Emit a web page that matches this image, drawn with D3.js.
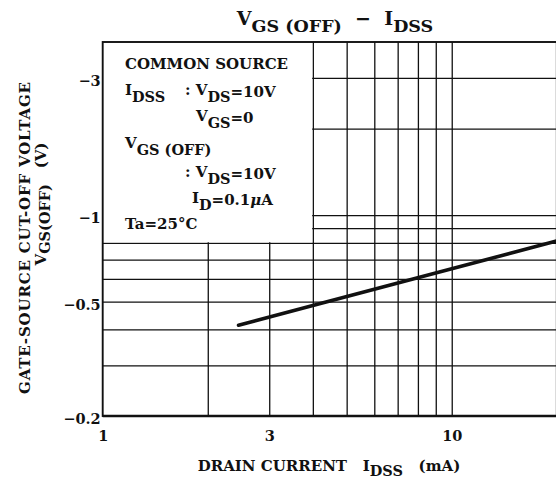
<!DOCTYPE html>
<html><head><meta charset="utf-8">
<script src="https://cdn.jsdelivr.net/npm/d3@7"></script>
<style>body{margin:0;background:#fff}svg{display:block}text{white-space:pre}</style>
</head><body>
<script>
// ---- data ----
const xTickValues = [1, 3, 10];
const xTickLabels = ["1", "3", "10"];
const yTickValues = [3, 1, 0.5, 0.2];
const yTickLabels = ["\u22123", "\u22121", "\u22120.5", "\u22120.2"];
const xGridValues = [2, 3, 4, 5, 6, 7, 8, 9, 10];
const yGridValues = [0.3, 0.4, 0.5, 0.6, 0.7, 0.8, 0.9, 1, 2, 3];
const idss = [2.45, 4, 10, 20];            // mA
const vgsOff = [0.414, 0.485, 0.65, 0.813]; // |V|

// ---- layout ----
const W = 556, H = 481;
const FONT = "'DejaVu Serif', serif";
const INK = "#111";
const svg = d3.select("body").append("svg").attr("width", W).attr("height", H)
  .style("font-family", FONT).style("font-weight", "bold");

const x = d3.scaleLog().domain([1, 20]).range([102.7, 556.8]);
const y = d3.scaleLog().domain([0.2, 4]).range([416, 42]);
const [x0, x1] = x.range(), [y0, y1] = y.range();

svg.append("defs").append("clipPath").attr("id", "plot")
  .append("rect").attr("x", x0).attr("y", y1).attr("width", x1 - x0).attr("height", y0 - y1);

const plot = svg.append("g").attr("clip-path", "url(#plot)");

// grid via axes
const gx = plot.append("g").attr("transform", `translate(0,${y0})`)
  .call(d3.axisBottom(x).tickValues(xGridValues).tickSize(-(y0 - y1)).tickFormat(""));
const gy = plot.append("g").attr("transform", `translate(${x0},0)`)
  .call(d3.axisLeft(y).tickValues(yGridValues).tickSize(-(x1 - x0)).tickFormat(""));
[gx, gy].forEach(g => {
  g.select(".domain").remove();
  g.selectAll("line").attr("stroke", INK).attr("stroke-width", 1.3);
});

// legend box (white, hides grid)
plot.append("rect").attr("x", x0).attr("y", y1)
  .attr("width", x(4) - x0 - 0.7).attr("height", y(0.8) - y1 - 0.7)
  .attr("fill", "#fff");

// curve
plot.append("path")
  .datum(idss.map((d, i) => [d, vgsOff[i]]))
  .attr("fill", "none").attr("stroke", INK).attr("stroke-width", 3.6)
  .attr("stroke-linecap", "round")
  .attr("d", d3.line().x(d => x(d[0])).y(d => y(d[1])));

// frame
svg.append("rect").attr("x", x0).attr("y", y1).attr("width", x1 - x0).attr("height", y0 - y1)
  .attr("fill", "none").attr("stroke", INK).attr("stroke-width", 1.9);
svg.append("line").attr("x1", x0).attr("x2", x1).attr("y1", y0).attr("y2", y0)
  .attr("stroke", INK).attr("stroke-width", 2.6);

// tick labels via axes
const ax = svg.append("g").attr("transform", `translate(0,${y0})`)
  .call(d3.axisBottom(x).tickValues(xTickValues).tickSize(0).tickPadding(15)
    .tickFormat((d, i) => xTickLabels[i]));
const ay = svg.append("g").attr("transform", `translate(${x0},0)`)
  .call(d3.axisLeft(y).tickValues(yTickValues).tickSize(0).tickPadding(2)
    .tickFormat((d, i) => yTickLabels[i]));
[ax, ay].forEach(g => {
  g.select(".domain").remove();
  g.selectAll("text").attr("fill", INK).style("font-family", FONT)
    .style("font-weight", "bold").style("font-size", "14.5px");
});
ay.selectAll("text").attr("dy", "0.75em").attr("y", -3);

// rich text helper: parts [{t, o}] o = baseline offset
function rich(parent, px, py, parts, size, anchor, transform) {
  const t = parent.append("text").attr("x", px).attr("y", py)
    .attr("fill", INK).style("font-size", size + "px")
    .attr("text-anchor", anchor || "start");
  if (transform) t.attr("transform", transform);
  let prev = 0;
  parts.forEach(p => {
    const o = p.o || 0;
    const ts = t.append("tspan").attr("dy", o - prev).text(p.t);
    if (p.s) ts.style("font-size", p.s + "px");
    if (p.i) ts.style("font-style", "italic");
    prev = o;
  });
  return t;
}

// title
rich(svg, 335, 25, [
  {t: "V"}, {t: "GS (OFF)", o: 7, s: 17.5}, {t: "  \u2212  ", o: 0}, {t: "I", o: 0}, {t: "DSS", o: 7, s: 17.5}
], 19, "middle");

// legend texts
const L = svg.append("g");
const FS = 15, SS = 14.5;
rich(L, 125, 69, [{t: "COMMON SOURCE"}], FS);
rich(L, 125, 95, [{t: "I"}, {t: "DSS", o: 7, s: SS}], FS);
rich(L, 185, 95, [{t: ": V"}, {t: "DS", o: 7, s: SS}, {t: "=10V", o: 2}], FS);
rich(L, 196, 121, [{t: "V"}, {t: "GS", o: 7, s: SS}, {t: "=0", o: 2}], FS);
rich(L, 125, 148, [{t: "V"}, {t: "GS (OFF)", o: 7, s: SS}], FS);
rich(L, 185, 177, [{t: ": V"}, {t: "DS", o: 7, s: SS}, {t: "=10V", o: 2}], FS);
rich(L, 192, 203, [{t: "I"}, {t: "D", o: 7, s: SS}, {t: "=0.1", o: 2}, {t: "\u03bc", o: 2, i: true}, {t: "A", o: 2}], FS);
rich(L, 125, 229, [{t: "Ta=25\u00b0C"}], FS);

// axis titles
rich(svg, 329, 471, [{t: "DRAIN CURRENT   I"}, {t: "DSS", o: 5, s: 14.5}, {t: "   (mA)", o: 0}], 15, "middle");
rich(svg, 0, 0, [{t: "GATE-SOURCE CUT-OFF VOLTAGE"}], 15, "middle", "translate(30,238) rotate(-90)")
  .attr("textLength", 312).attr("lengthAdjust", "spacing");
rich(svg, 0, 0, [{t: "V"}, {t: "GS(OFF)", o: 4, s: 14.5}, {t: "   (V)", o: 0}], 15, "middle", "translate(46,204) rotate(-90)");
</script>
</body></html>
